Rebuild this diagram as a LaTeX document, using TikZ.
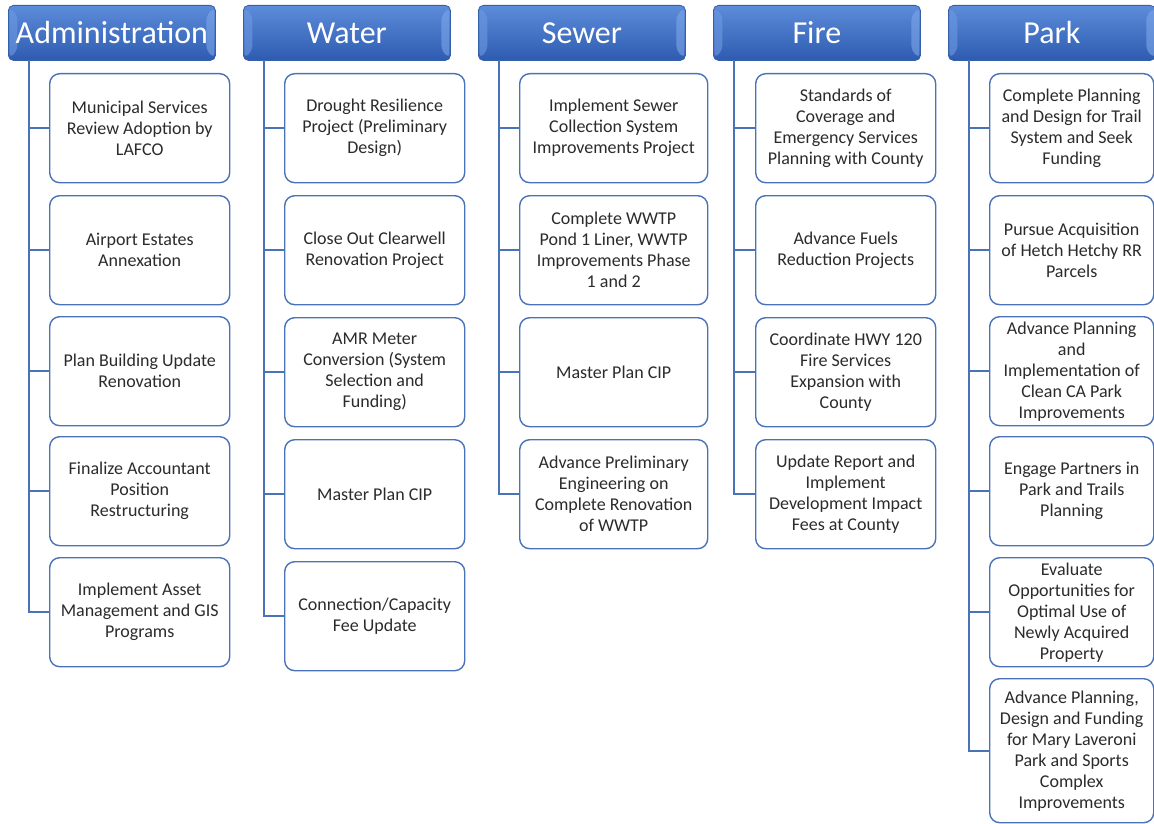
\documentclass[tikz,border=0pt]{standalone}
\usepackage{fontspec}
\setmainfont{Carlito}
\usetikzlibrary{positioning,calc}
\definecolor{ink}{HTML}{2B2B2B}
\definecolor{headtop}{HTML}{5C8CDA}
\definecolor{headbot}{HTML}{2E5BB0}
\definecolor{headline}{HTML}{3560AA}
\definecolor{bevelleft}{HTML}{6E9AE2}
\definecolor{bevelright}{HTML}{7EA7EA}
\definecolor{taskline}{HTML}{4A72B8}
\tikzset{
  head/.style={rounded corners=5pt,draw=headline,line width=.8pt,
    top color=headtop,bottom color=headbot,text=white,
    minimum width=207pt,minimum height=55pt,anchor=north west,
    inner sep=0pt,font=\fontsize{32}{34}\selectfont,
    path picture={
      \fill[bevelleft,opacity=.6]
        ($(path picture bounding box.north west)+(1pt,-2pt)$) --
        ($(path picture bounding box.north west)+(9pt,-10pt)$) --
        ($(path picture bounding box.south west)+(9pt,10pt)$) --
        ($(path picture bounding box.south west)+(1pt,2pt)$) -- cycle;
      \fill[bevelright,opacity=.6]
        ($(path picture bounding box.north east)+(-1pt,-2pt)$) --
        ($(path picture bounding box.north east)+(-9pt,-10pt)$) --
        ($(path picture bounding box.south east)+(-9pt,10pt)$) --
        ($(path picture bounding box.south east)+(-1pt,2pt)$) -- cycle;
    }},
  task/.style={rounded corners=10pt,draw=taskline,line width=1.4pt,
    fill=white,text=ink,align=center,minimum width=180pt,
    minimum height=109pt,anchor=north west,inner sep=2pt,
    font=\fontsize{18}{21}\selectfont},
  widetask/.style={task,minimum width=188pt},
  parktask/.style={task,minimum width=164pt},
  link/.style={draw=taskline,line width=2pt}
}

\begin{document}
\begin{tikzpicture}[x=1pt,y=-1pt]
\useasboundingbox (0,0) rectangle (1154,824);

% Administration
\node[head] (adm) at (8,5) {Administration};
\coordinate (admtrunk) at (29,60);
\node[task] (adm1) at (49,73) {Municipal Services\\Review Adoption by\\LAFCO};
\node[task] (adm2) at (49,195) {Airport Estates\\Annexation};
\node[task] (adm3) at (49,316) {Plan Building Update\\Renovation};
\node[task] (adm4) at (49,436) {Finalize Accountant\\Position\\Restructuring};
\node[task] (adm5) at (49,557) {Implement Asset\\Management and GIS\\Programs};
\foreach \n in {adm1,adm2,adm3,adm4,adm5}
  \draw[link] (admtrunk) |- (\n.west);

% Water
\node[head] (wat) at (243,5) {Water};
\coordinate (wattrunk) at (264,60);
\node[task] (wat1) at (284,73) {Drought Resilience\\Project (Preliminary\\Design)};
\node[task] (wat2) at (284,195) {Close Out Clearwell\\Renovation Project};
\node[task] (wat3) at (284,317) {AMR Meter\\Conversion (System\\Selection and\\Funding)};
\node[task] (wat4) at (284,439) {Master Plan CIP};
\node[task] (wat5) at (284,561) {Connection/Capacity\\Fee Update};
\foreach \n in {wat1,wat2,wat3,wat4,wat5}
  \draw[link] (wattrunk) |- (\n.west);

% Sewer
\node[head] (sew) at (478,5) {Sewer};
\coordinate (sewtrunk) at (499,60);
\node[widetask] (sew1) at (519,73) {Implement Sewer\\Collection System\\Improvements Project};
\node[widetask] (sew2) at (519,195) {Complete WWTP\\Pond 1 Liner, WWTP\\Improvements Phase\\1 and 2};
\node[widetask] (sew3) at (519,317) {Master Plan CIP};
\node[widetask] (sew4) at (519,439) {Advance Preliminary\\Engineering on\\Complete Renovation\\of WWTP};
\foreach \n in {sew1,sew2,sew3,sew4}
  \draw[link] (sewtrunk) |- (\n.west);

% Fire
\node[head] (fir) at (713,5) {Fire};
\coordinate (firtrunk) at (734,60);
\node[task] (fir1) at (755,73) {Standards of\\Coverage and\\Emergency Services\\Planning with County};
\node[task] (fir2) at (755,195) {Advance Fuels\\Reduction Projects};
\node[task] (fir3) at (755,317) {Coordinate HWY 120\\Fire Services\\Expansion with\\County};
\node[task] (fir4) at (755,439) {Update Report and\\Implement\\Development Impact\\Fees at County};
\foreach \n in {fir1,fir2,fir3,fir4}
  \draw[link] (firtrunk) |- (\n.west);

% Park
\node[head] (prk) at (948,5) {Park};
\coordinate (prktrunk) at (969,60);
\node[parktask] (prk1) at (989,73) {Complete Planning\\and Design for Trail\\System and Seek\\Funding};
\node[parktask] (prk2) at (989,195) {Pursue Acquisition\\of Hetch Hetchy RR\\Parcels};
\node[parktask] (prk3) at (989,316) {Advance Planning\\and\\Implementation of\\Clean CA Park\\Improvements};
\node[parktask] (prk4) at (989,436) {Engage Partners in\\Park and Trails\\Planning};
\node[parktask] (prk5) at (989,557) {Evaluate\\Opportunities for\\Optimal Use of\\Newly Acquired\\Property};
\node[parktask,minimum height=144pt] (prk6) at (989,678) {Advance Planning,\\Design and Funding\\for Mary Laveroni\\Park and Sports\\Complex\\Improvements};
\foreach \n in {prk1,prk2,prk3,prk4,prk5,prk6}
  \draw[link] (prktrunk) |- (\n.west);

\end{tikzpicture}
\end{document}
